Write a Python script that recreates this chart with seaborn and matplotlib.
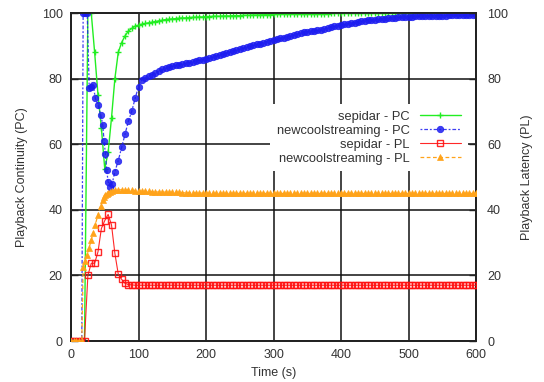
import numpy as np
import pandas as pd
import matplotlib
matplotlib.use("Agg")
import matplotlib.pyplot as plt
import seaborn as sns

# ---------------- data ----------------
sep_time = list(range(0, 605, 5))
sep_pc = ([0, 0, 0, 0, 0,
           100, 100, 88, 75, 65, 52.5, 57.5, 68, 80, 88, 91, 93, 94.5, 95.3, 96, 96.3,
           96.6, 96.8, 97.0, 97.2, 97.4, 97.6, 97.8, 98.0, 98.1, 98.2,
           98.3, 98.4, 98.5, 98.5, 98.6, 98.7, 98.7, 98.8, 98.8, 98.9,
           98.9, 99.0, 99.0, 99.0, 99.1, 99.1, 99.1, 99.2, 99.2, 99.2,
           99.3, 99.3, 99.3, 99.4, 99.4, 99.4, 99.5, 99.5, 99.5, 99.6,
           99.6, 99.6, 99.6, 99.7, 99.7, 99.7, 99.7, 99.7, 99.8, 99.8,
           99.8, 99.8, 99.8, 99.8, 99.8, 99.8, 99.9, 99.9, 99.9, 99.9,
           99.9, 99.9, 99.9, 99.9, 99.9, 99.9, 99.9, 99.9, 99.9, 99.9,
           99.9, 99.9, 99.9, 99.9, 100, 100, 100, 100, 100, 100,
           100, 100, 100, 100, 100, 100, 100, 100, 100, 100,
           100, 100, 100, 100, 100, 100, 100, 100, 100, 100])
sep_pl = ([0, 0, 0, 0, 0,
           20, 23.7, 23.7, 27.2, 34.3, 36.7, 38.6, 35.4, 26.7, 20.4, 18.8, 17.6, 17.2, 17.1, 17.0, 17.0,
           17.0, 17.0, 17.0, 17.0, 17.0, 17.0, 17.0, 17.0, 17.0, 17.0,
           17.0, 17.0, 17.0, 17.0, 17.0, 17.0, 17.0, 17.0, 17.0, 17.0,
           17.0, 17.0, 17.0, 17.0, 17.0, 17.0, 17.0, 17.0, 17.0, 17.0,
           17.0, 17.0, 17.0, 17.0, 17.0, 17.0, 17.0, 17.0, 17.0, 17.0,
           17.0, 17.0, 17.0, 17.0, 17.0, 17.0, 17.0, 17.0, 17.0, 17.0,
           17.0, 17.0, 17.0, 17.0, 17.0, 17.0, 17.0, 17.0, 17.0, 17.0,
           17.0, 17.0, 17.0, 17.0, 17.0, 17.0, 17.0, 17.0, 17.0, 17.0,
           17.0, 17.0, 17.0, 17.0, 17.0, 17.0, 17.0, 17.0, 17.0, 17.0,
           17.0, 17.0, 17.0, 17.0, 17.0, 17.0, 17.0, 17.0, 17.0, 17.0,
           17.0, 17.0, 17.0, 17.0, 17.0, 17.0, 17.0, 17.0, 17.0, 17.0])

ncs_time = ([0, 4, 8, 12, 16, 18, 21, 24, 27, 30, 33, 36, 40, 44, 47, 49, 51, 53, 55, 58,
             61, 65, 70, 75, 80, 85, 90, 95, 100] + list(range(105, 605, 5)))
ncs_pc = ([0, 0, 0, 0, 0, 100, 100, 100, 77, 77.5, 78, 74, 72, 69, 66, 61, 57, 52, 48.5, 47,
           48, 51.6, 55, 59, 63, 67, 70, 74, 77.5,
           79.6, 80.3, 80.8, 81.2, 81.7, 82.3, 82.8, 83.1, 83.5, 83.8,
           84.0, 84.2, 84.5, 84.7, 84.9, 85.1, 85.4, 85.6, 85.8, 86.0,
           86.3, 86.6, 86.9, 87.2, 87.5, 87.8, 88.1, 88.4, 88.7, 89.0,
           89.3, 89.6, 89.9, 90.1, 90.4, 90.7, 91.0, 91.3, 91.6, 91.8,
           92.0, 92.3, 92.5, 92.8, 93.0, 93.3, 93.6, 93.9, 94.1, 94.3,
           94.5, 94.6, 94.7, 94.8, 95.1, 95.4, 95.7, 95.9, 96.1, 96.3,
           96.5, 96.7, 96.9, 97.1, 97.3, 97.5, 97.7, 97.8, 97.9, 98.0,
           98.1, 98.2, 98.3, 98.4, 98.5, 98.6, 98.7, 98.7, 98.8, 98.9,
           98.9, 99.0, 99.0, 99.0, 99.1, 99.1, 99.1, 99.2, 99.2, 99.2,
           99.2, 99.3, 99.3, 99.3, 99.3, 99.3, 99.4, 99.4, 99.4, 99.4])
ncs_pl = ([0, 0, 0, 0, 0, 22.6, 24.5, 26.3, 28.5, 30.8, 33.0, 35.5, 38.5, 41.3, 43.0, 43.8,
           44.4, 44.9, 45.2, 45.5, 45.8, 46.0, 46.1, 46.1, 46.0, 46.0, 45.9, 45.8, 45.7,
           45.7, 45.6, 45.6, 45.5, 45.5, 45.4, 45.4, 45.4, 45.3, 45.3,
           45.3, 45.3, 45.2, 45.2, 45.2, 45.2, 45.1, 45.1, 45.1, 45.1,
           45.0, 45.0, 45.0, 45.0, 45.0, 45.0, 45.0, 45.0, 45.0, 45.0,
           45.0, 45.0, 45.0, 45.0, 45.0, 45.0, 45.0, 45.0, 45.0, 45.0,
           45.0, 45.0, 45.0, 45.0, 45.0, 45.0, 45.0, 45.0, 45.0, 45.0,
           45.0, 45.0, 45.0, 45.0, 45.0, 45.0, 45.0, 45.0, 45.0, 45.0,
           45.0, 45.0, 45.0, 45.0, 45.0, 45.0, 45.0, 45.0, 45.0, 45.0,
           45.0, 45.0, 45.0, 45.0, 45.0, 45.0, 45.0, 45.0, 45.0, 45.0,
           45.0, 45.0, 45.0, 45.0, 45.0, 45.0, 45.0, 45.0, 45.0, 45.0,
           45.0, 45.0, 45.0, 45.0, 45.0, 45.0, 45.0, 45.0, 45.0, 45.0])

x_ticks = [0, 100, 200, 300, 400, 500, 600]
y_ticks = [0, 20, 40, 60, 80, 100]
labels = ["sepidar - PC", "newcoolstreaming - PC", "sepidar - PL", "newcoolstreaming - PL"]

# ---------------- style ----------------
sns.set_theme(style="white")
plt.rcParams["font.family"] = ["Liberation Sans", "DejaVu Sans"]
plt.rcParams["font.size"] = 9

fig = plt.figure(figsize=(5.44, 3.82), dpi=100)
ax = fig.add_axes([71 / 544, 1 - 341 / 382, 405 / 544, 328 / 382])
ax2 = ax.twinx()

sep_df = pd.DataFrame({"t": sep_time, "pc": sep_pc, "pl": sep_pl})
ncs_df = pd.DataFrame({"t": ncs_time, "pc": ncs_pc, "pl": ncs_pl})

GREEN, BLUE, RED, ORANGE = "#22ee22", "#1c1cf0", "#ff1010", "#ffa31a"

sns.lineplot(data=sep_df, x="t", y="pc", ax=ax, color=GREEN, lw=1.0, marker="+",
             markersize=5, markeredgecolor=GREEN, markeredgewidth=1.0,
             label=labels[0], sort=False, estimator=None, zorder=3)
sns.lineplot(data=ncs_df, x="t", y="pc", ax=ax, color=BLUE, lw=0.9,
             linestyle=(0, (1.5, 1.5, 3, 1.5)), marker="o", markersize=4.6,
             markeredgecolor=BLUE, markerfacecolor=BLUE, markeredgewidth=0.6, alpha=0.85,
             label=labels[1], sort=False, estimator=None, zorder=4)
sns.lineplot(data=sep_df, x="t", y="pl", ax=ax2, color=RED, lw=0.8, alpha=0.9, marker="s",
             markersize=4, markerfacecolor="none", markeredgecolor=RED, markeredgewidth=1.0,
             label=labels[2], sort=False, estimator=None, zorder=3)
sns.lineplot(data=ncs_df, x="t", y="pl", ax=ax2, color=ORANGE, lw=0.9,
             linestyle=(0, (3, 2)), marker="^", markersize=4,
             markerfacecolor=ORANGE, markeredgecolor=ORANGE, markeredgewidth=0.5,
             label=labels[3], sort=False, estimator=None, zorder=4)

for a in (ax, ax2):
    a.set_xlim(0, 600)
    a.set_ylim(0, 100)
    a.set_yticks(y_ticks)
    for s in a.spines.values():
        s.set_color("#222222")
        s.set_linewidth(1.3)
    a.tick_params(direction="in", length=5, width=1, colors="#222222",
                  labelcolor="#333333", labelsize=9)

ax.set_xticks(x_ticks)
ax.grid(True, color="#111111", lw=1.1)
ax.set_axisbelow(True)
ax.set_xlabel("Time (s)", fontsize=9, color="#333333", labelpad=4)
ax.set_ylabel("Playback Continuity (PC)", fontsize=9, color="#333333", labelpad=10)
ax2.set_ylabel("Playback Latency (PL)", fontsize=9, color="#333333", labelpad=9)
ax2.yaxis.set_label_position("right")
ax.tick_params(axis="y", pad=6)
ax2.tick_params(axis="y", pad=8)
ax.tick_params(axis="x", pad=6)

ax.get_legend().remove()
h1, l1 = ax.get_legend_handles_labels()
h2, l2 = ax2.get_legend_handles_labels()
leg = ax2.legend(h1 + h2, l1 + l2, loc="center right", bbox_to_anchor=(0.995, 0.62),
                 markerfirst=False, frameon=True, facecolor="white", edgecolor="none",
                 framealpha=1.0, fontsize=9.3, handlelength=3.2, labelspacing=0.15,
                 borderpad=0.5, handletextpad=0.8, fancybox=False)
for t in leg.get_texts():
    t.set_color("#333333")

fig.savefig("out.png", dpi=100)
